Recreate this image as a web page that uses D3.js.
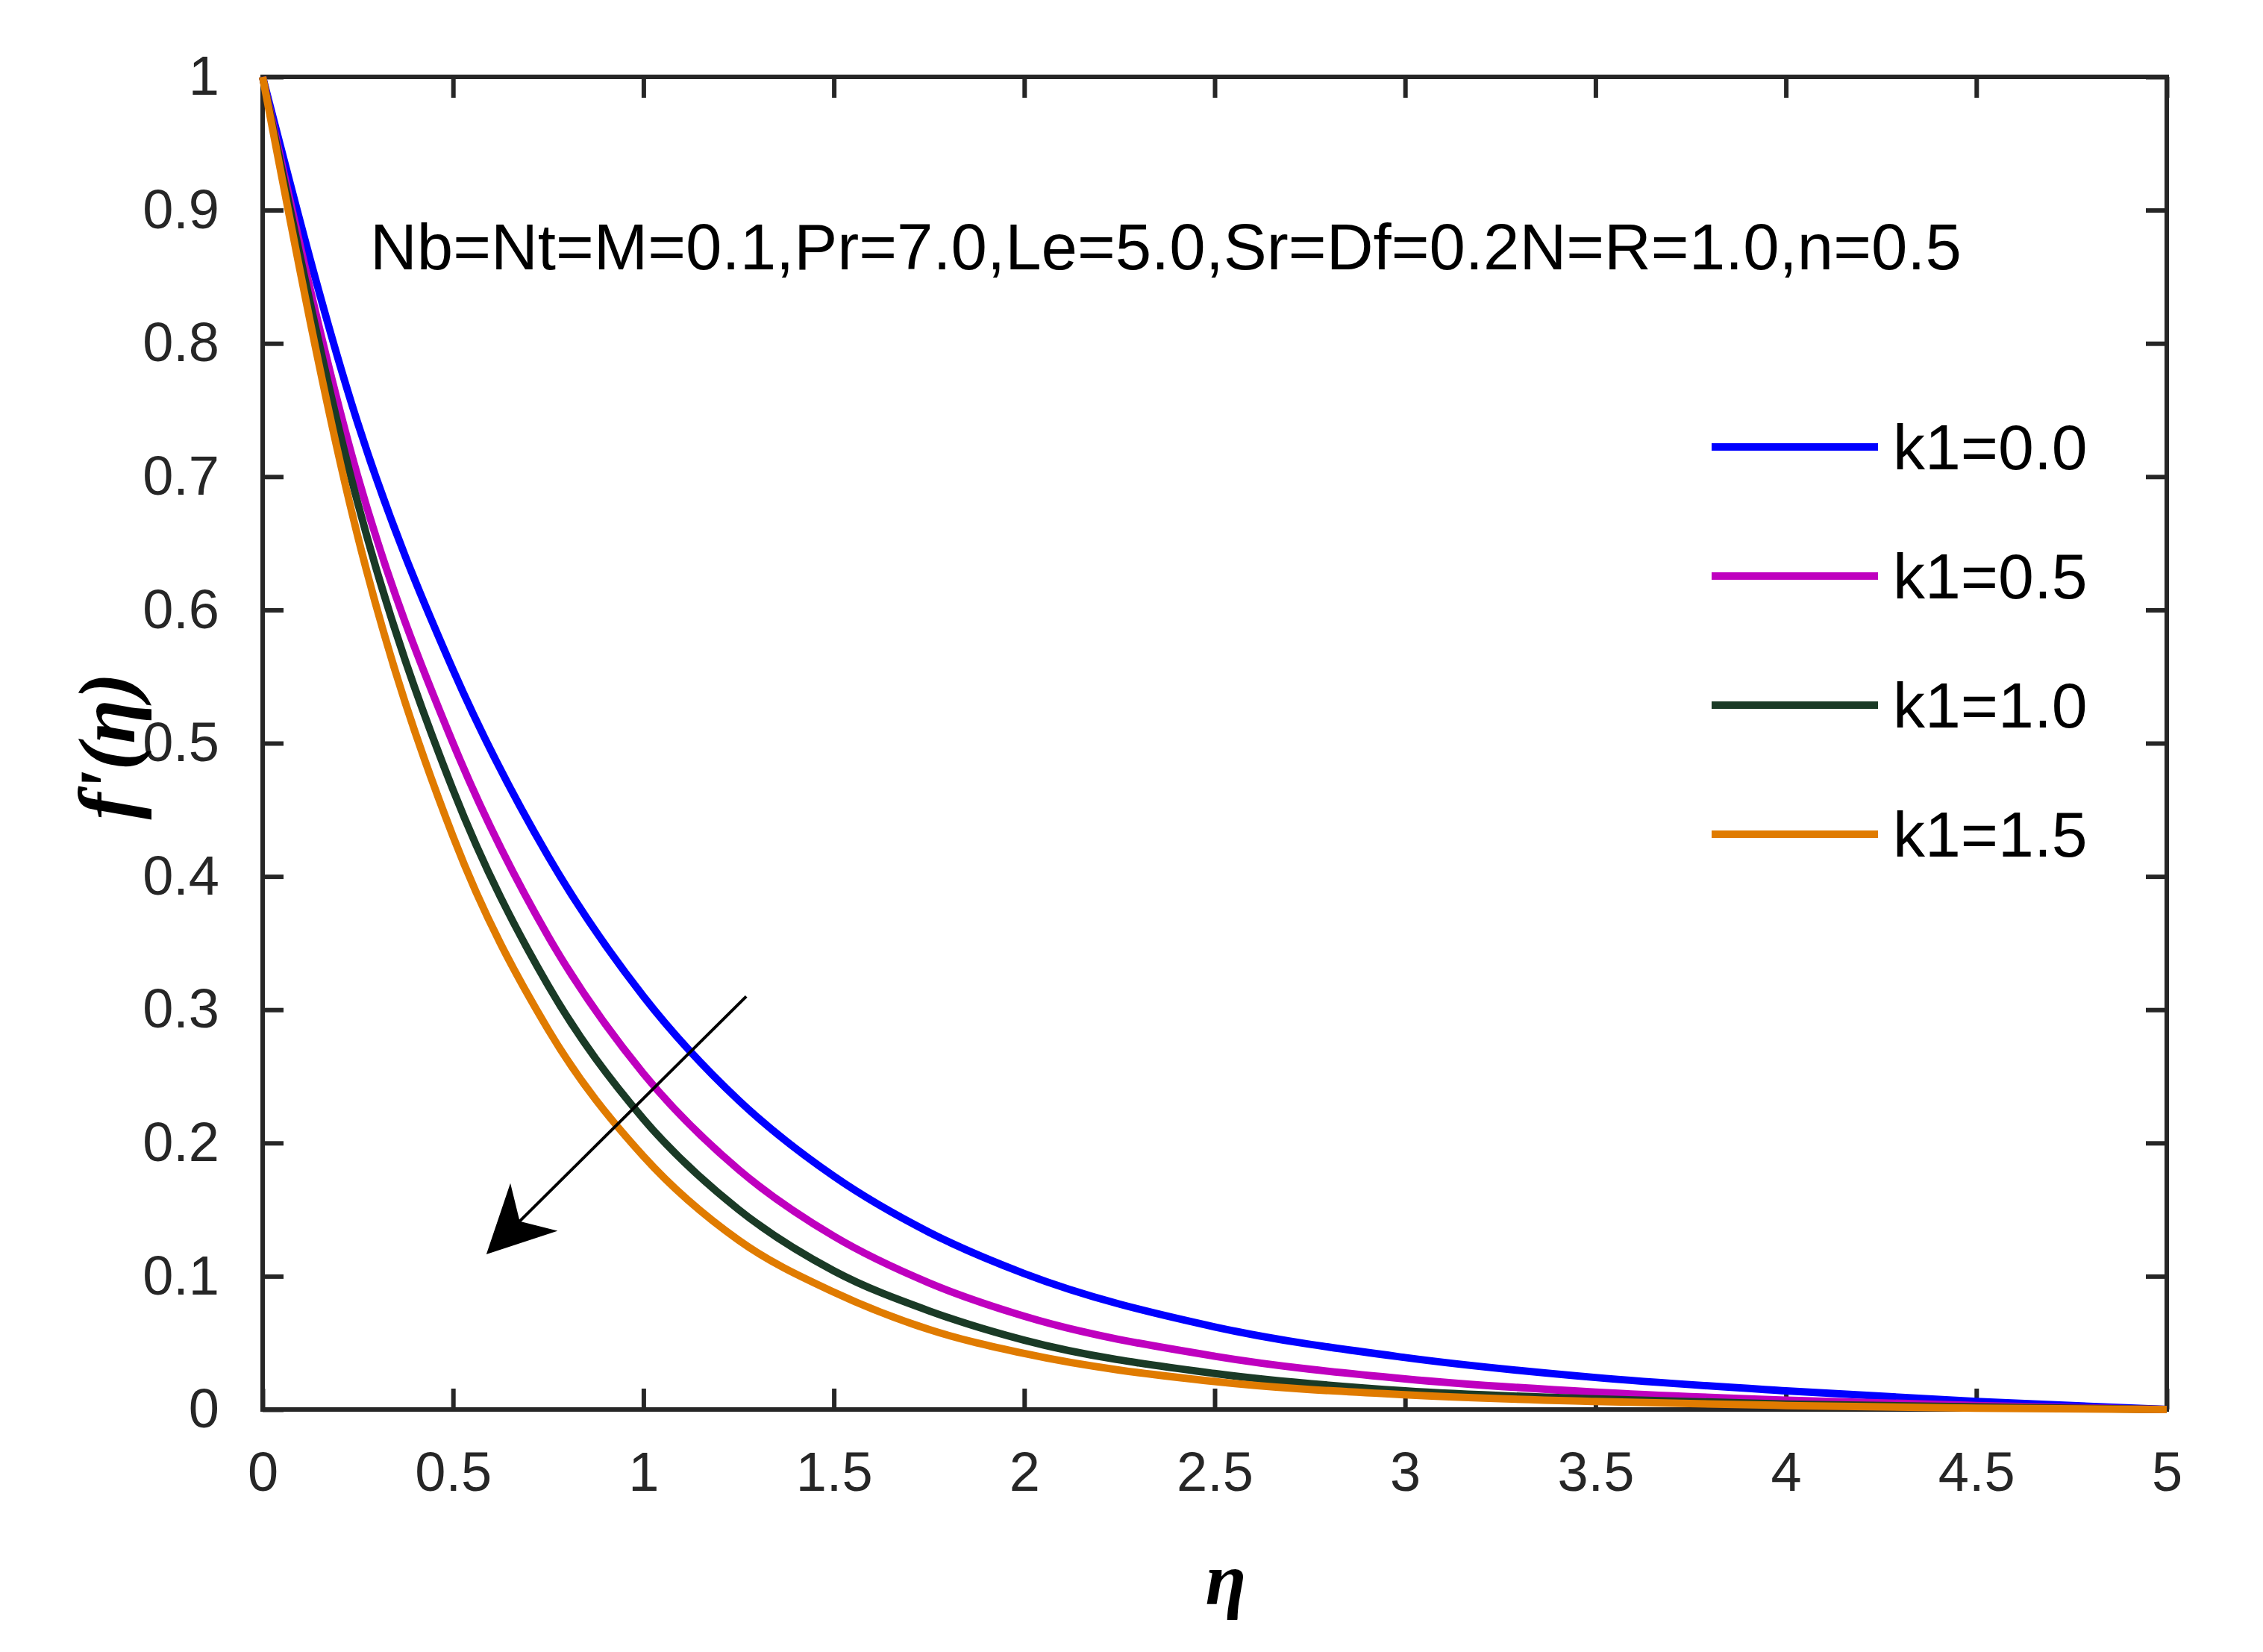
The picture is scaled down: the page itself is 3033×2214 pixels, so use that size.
<!DOCTYPE html>
<html><head><meta charset="utf-8">
<script src="https://cdn.jsdelivr.net/npm/d3@7"></script>
<style>body{margin:0;background:#fff}</style></head>
<body><div class="chart"></div>
<script>
const etaVals = [0, 0.25, 0.5, 0.75, 1, 1.25, 1.5, 1.75, 2, 2.5, 3, 3.5, 4, 4.5, 5];
const k00 = [1, .74, .555, .415, .31, .232, .175, .133, .102, .062, .039, .024, .014, .006, 0];
const k05 = [1, .70, .50, .355, .252, .18, .13, .095, .07, .04, .023, .013, .007, .003, 0];
const k10 = [1, .68, .465, .318, .218, .15, .104, .074, .052, .027, .014, .008, .004, .002, 0];
const k15 = [1, .655, .43, .285, .19, .127, .088, .06, .042, .021, .011, .006, .003, .001, 0];
const seriesNames = ["k1=0.0", "k1=0.5", "k1=1.0", "k1=1.5"];
const colors = ["#0000ff", "#bf00bf", "#1a3a26", "#e07b00"];
const xTicks = [0, 0.5, 1, 1.5, 2, 2.5, 3, 3.5, 4, 4.5, 5];
const yTicks = [0, 0.1, 0.2, 0.3, 0.4, 0.5, 0.6, 0.7, 0.8, 0.9, 1];

const W = 3033, H = 2214;
const margin = { top: 103, right: 115, bottom: 317, left: 352 };
const width = W - margin.left - margin.right - 14;
const height = H - margin.top - margin.bottom - 8;

const svg = d3.select(".chart").append("svg").attr("width", W).attr("height", H)
  .style("font-family", "'Liberation Sans', Arial, sans-serif");
const g = svg.append("g").attr("transform", `translate(${margin.left},${margin.top})`);

const x = d3.scaleLinear().domain([0, 5]).range([0, width]);
const y = d3.scaleLinear().domain([0, 1]).range([height, 0]);

const fmt = d => String(d);
function styleAxis(sel, hideText) {
  sel.select(".domain").remove();
  sel.selectAll("line").attr("stroke", "#262626").attr("stroke-width", 6);
  sel.selectAll("text").attr("fill", "#262626").style("font-size", "74px")
    .style("font-family", "'Liberation Sans', Arial, sans-serif");
  if (hideText) sel.selectAll("text").remove();
}
g.append("g").attr("transform", `translate(0,${height})`)
  .call(d3.axisBottom(x).tickValues(xTicks).tickFormat(fmt).tickSizeInner(-28).tickPadding(56))
  .call(s => styleAxis(s, false));
g.append("g").call(d3.axisTop(x).tickValues(xTicks).tickSizeInner(-28)).call(s => styleAxis(s, true));
g.append("g").call(d3.axisLeft(y).tickValues(yTicks).tickFormat(fmt).tickSizeInner(-28).tickPadding(58))
  .call(s => styleAxis(s, false));
g.append("g").attr("transform", `translate(${width},0)`)
  .call(d3.axisRight(y).tickValues(yTicks).tickSizeInner(-28)).call(s => styleAxis(s, true));

g.append("rect").attr("width", width).attr("height", height)
  .attr("fill", "none").attr("stroke", "#262626").attr("stroke-width", 6);

const line = d3.line().x(d => x(d[0])).y(d => y(d[1])).curve(d3.curveMonotoneX);
[k00, k05, k10, k15].forEach((s, i) => {
  g.append("path").datum(etaVals.map((e, j) => [e, s[j]]))
    .attr("d", line).attr("fill", "none").attr("stroke", colors[i]).attr("stroke-width", 10);
});

// legend
seriesNames.forEach((name, i) => {
  const ly = 496 + i * 173;
  g.append("line").attr("x1", 1942).attr("x2", 2165).attr("y1", ly).attr("y2", ly)
    .attr("stroke", colors[i]).attr("stroke-width", 10);
  g.append("text").attr("x", 2185).attr("y", ly + 30).text(name)
    .style("font-size", "86px").attr("fill", "#000");
});

g.append("text").attr("x", 144).attr("y", 258)
  .text("Nb=Nt=M=0.1,Pr=7.0,Le=5.0,Sr=Df=0.2N=R=1.0,n=0.5")
  .style("font-size", "87px").attr("fill", "#000");

// arrow
const defs = svg.append("defs");
defs.append("marker").attr("id", "ah").attr("viewBox", "0 0 10 10").attr("refX", 9).attr("refY", 5)
  .attr("markerWidth", 90).attr("markerHeight", 90).attr("orient", "auto")
  .attr("markerUnits", "userSpaceOnUse")
  .append("path").attr("d", "M0,0 L10,5 L0,10 L3,5 Z").attr("fill", "#000");
g.append("line").attr("x1", x(1.27)).attr("y1", y(0.31)).attr("x2", x(0.6)).attr("y2", y(0.12))
  .attr("stroke", "#000").attr("stroke-width", 4).attr("marker-end", "url(#ah)");

// axis labels
svg.append("text").attr("x", 1643).attr("y", 2150).attr("text-anchor", "middle")
  .style("font-family", "'Liberation Serif', serif").style("font-style", "italic").style("font-weight", "bold")
  .style("font-size", "100px").text("η");
svg.append("text").attr("transform", "translate(180,1000) rotate(-90)").attr("text-anchor", "middle")
  .style("font-family", "'Liberation Serif', serif").style("font-style", "italic").style("font-weight", "bold")
  .style("font-size", "108px").text("f'(η)");
</script></body></html>
